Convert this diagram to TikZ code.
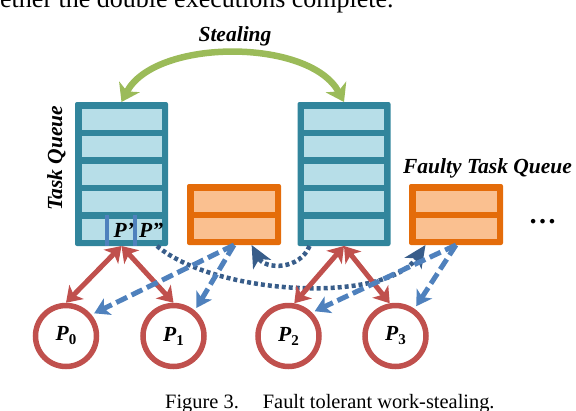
\documentclass[tikz,border=0pt]{standalone}
\usepackage{fontspec}
\setmainfont{Liberation Serif}
\usetikzlibrary{arrows.meta}

\definecolor{qteal}{RGB}{49,133,156}
\definecolor{qcell}{RGB}{183,222,232}
\definecolor{forange}{RGB}{228,108,10}
\definecolor{fcell}{RGB}{250,192,144}
\definecolor{pred}{RGB}{192,80,77}
\definecolor{sgreen}{RGB}{155,187,89}
\definecolor{dblue}{RGB}{79,129,189}
\definecolor{tblue}{RGB}{56,93,138}

\newcommand{\lbl}{\fontsize{21.5pt}{21.5pt}\selectfont\bfseries\itshape}
\newcommand{\proc}[1]{{\lbl P}\raisebox{-4pt}{\fontsize{15pt}{15pt}\selectfont\bfseries #1}}

\begin{document}
\begin{tikzpicture}[x=1pt,y=-1pt,
  queue/.style={fill=qteal,rounded corners=2pt,inner sep=0pt,outer sep=0pt,
    minimum width=93pt,minimum height=144pt},
  fqueue/.style={fill=forange,rounded corners=2pt,inner sep=0pt,outer sep=0pt,
    minimum width=94pt,minimum height=61pt},
  proc/.style={circle,draw=pred,line width=5.5pt,minimum size=61pt,inner sep=0pt},
  txt/.style={inner sep=0pt,anchor=base},
  red arrow/.style={pred,line width=5pt,
    arrows={Stealth[length=15pt,width=20pt,inset=4pt]-Stealth[length=15pt,width=20pt,inset=4pt]}},
  fault arrow/.style={dblue,line width=5pt,dash pattern=on 12pt off 5pt,shorten >=3pt,
    arrows={-Stealth[length=15pt,width=18pt,inset=4pt]}},
  dot arrow/.style={tblue,line width=4.5pt,dash pattern=on 4pt off 3pt,
    arrows={-Stealth[length=22pt,width=20pt,inset=6pt]}},
  steal arrow/.style={sgreen,line width=6.5pt,
    arrows={Stealth[length=17pt,width=23pt,inset=5pt]-Stealth[length=17pt,width=23pt,inset=5pt]}}]

  \useasboundingbox (0,0) rectangle (576,410);

  \node[txt,anchor=base west] (body) at (0,7.3)
    {\fontsize{26pt}{26pt}\selectfont ether the double executions complete.};

  % task queues
  \node[queue] (q1) at (121.5,174) {};
  \node[queue] (q2) at (344,174) {};
  \foreach \q in {q1,q2}
    \foreach \k in {0,...,4}
      \fill[qcell] ([shift={(6.5,{6.5+27.5*\k})}]\q.north west) rectangle +(80,21);

  % faulty task queues
  \node[fqueue] (f1) at (234,214.5) {};
  \node[fqueue] (f2) at (456,214.5) {};
  \foreach \q in {f1,f2}
    \foreach \k in {0,1}
      \fill[fcell] ([shift={(6.5,{6.5+27.5*\k})}]\q.north west) rectangle +(81,21);

  % P' and P''
  \coordinate (m1) at (107,215);
  \coordinate (m2) at (135,215);
  \draw[dblue,line width=4pt] (m1) -- (m1 |- q1.south);
  \draw[dblue,line width=4pt] (m2) -- (m2 |- q1.south);
  \node[txt,anchor=base west] (pp1) at (113.5,237) {\lbl P’};
  \node[txt,anchor=base west] (pp2) at (139,237) {\lbl P”};

  % processors
  \node[proc] (p0) at (66,336)    {\proc{0}};
  \node[proc] (p1) at (173.5,336) {\proc{1}};
  \node[proc] (p2) at (288.5,336) {\proc{2}};
  \node[proc] (p3) at (395.5,336) {\proc{3}};

  \node[txt] (steal) at (235,41) {\lbl Stealing};
  \node[txt,rotate=90] (tq) at (62,158) {\lbl Task Queue};
  \node[txt] (fq) at (487.5,173) {\lbl Faulty Task Queue};
  \node[txt] (more) at (542.5,223) {\fontsize{28pt}{28pt}\selectfont\bfseries …};

  \draw[steal arrow] (q1.north) .. controls (155,38) and (310,38) .. (q2.north);

  \draw[dot arrow] ([xshift=-11pt]q1.south east)
    .. controls (215,295) and (385,305) .. (f2.225);
  \draw[dot arrow] ([xshift=12pt]q2.south west)
    .. controls (300,270) and (265,270) .. (f1.-60);

  \draw[red arrow] (q1.south) -- (p0.north);
  \draw[red arrow] (q1.south) -- (p1.north);
  \draw[red arrow] (q2.south) -- (p2.80);
  \draw[red arrow] (q2.south) -- (p3.100);

  \draw[fault arrow] (f1.south) -- (p0.40);
  \draw[fault arrow] (f1.south) -- (p1.50);
  \draw[fault arrow] (f2.south) -- (p2.45);
  \draw[fault arrow] (f2.south) -- (p3.55);

  \node[txt,anchor=base west] (caption) at (165,408)
    {\fontsize{20.4pt}{20.4pt}\selectfont Figure 3.\hspace{24pt}Fault tolerant work-stealing.};
\end{tikzpicture}
\end{document}
